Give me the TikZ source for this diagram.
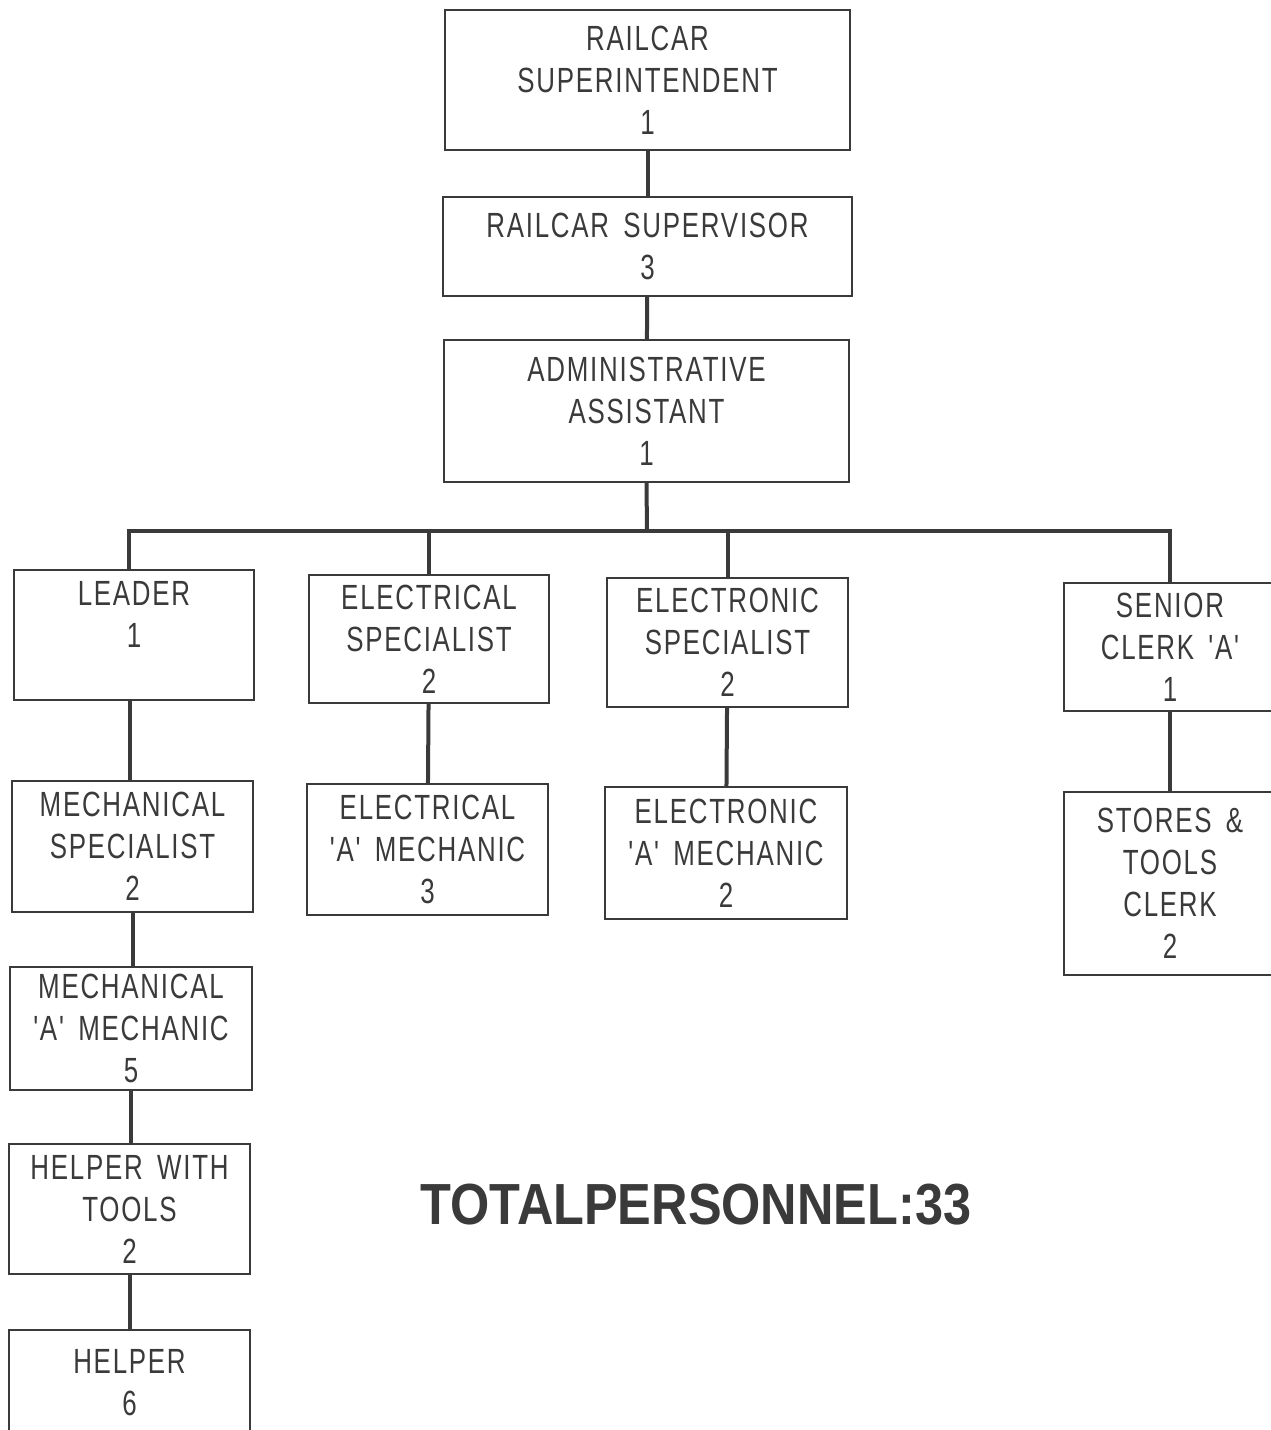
\documentclass[tikz,border=0pt]{standalone}
\usepackage{fontspec}
\newfontfamily\chartfont[FakeStretch=0.74,LetterSpace=5,WordSpace=1.6]{Liberation Sans}
\newfontfamily\totalfont[FakeStretch=0.87]{Liberation Sans}
\definecolor{ink}{HTML}{3A3A3A}

\begin{document}
\begin{tikzpicture}[
				x=1pt, y=-1pt,
				every node/.style={font=\chartfont\fontsize{35}{42}\selectfont, text=ink},
				box/.style={
					draw=ink,
					align=center,
					inner sep=0pt,
					line width=2pt
				},
				link/.style={
					draw=ink,
					line width=4pt
				}
				]
				\useasboundingbox (0,0) rectangle (1270,1430);
				
				\node[box,minimum width=405pt,minimum height=140pt] (super) at (647.5,80)
				{RAILCAR\\SUPERINTENDENT\\1};
				\node[box,minimum width=409pt,minimum height=99pt] (superv) at (647.5,246.5)
				{RAILCAR SUPERVISOR\\3};
				\node[box,minimum width=405pt,minimum height=142pt] (admin) at (646.5,411)
				{ADMINISTRATIVE\\ASSISTANT\\1};
				
				\node[box,minimum width=240pt,minimum height=130pt] (leader) at (134,635)
				{LEADER\\1\\\phantom{1}};
				\node[box,minimum width=240pt,minimum height=128pt] (elecspec) at (429,639)
				{ELECTRICAL\\SPECIALIST\\2};
				\node[box,minimum width=241pt,minimum height=129pt] (tronspec) at (727.5,642.5)
				{ELECTRONIC\\SPECIALIST\\2};
				\node[box,minimum width=212pt,minimum height=128pt] (clerk) at (1170,647)
				{SENIOR\\CLERK 'A'\\1};
				
				\node[box,minimum width=241pt,minimum height=131pt] (mechspec) at (132.5,846.5)
				{MECHANICAL\\SPECIALIST\\2};
				\node[box,minimum width=241pt,minimum height=131pt] (elecmech) at (427.5,849.5)
				{ELECTRICAL\\'A' MECHANIC\\3};
				\node[box,minimum width=242pt,minimum height=132pt] (tronmech) at (726,853)
				{ELECTRONIC\\'A' MECHANIC\\2};
				\node[box,minimum width=212pt,minimum height=183pt] (stores) at (1170,883.5)
				{STORES \&\\TOOLS\\CLERK\\2};
				
				\node[box,minimum width=242pt,minimum height=123pt] (mechmech) at (131,1028.5)
				{MECHANICAL\\'A' MECHANIC\\5};
				\node[box,minimum width=241pt,minimum height=130pt] (helptools) at (129.5,1209)
				{HELPER WITH\\TOOLS\\2};
				\node[box,minimum width=241pt,minimum height=106pt] (helper) at (129.5,1383)
				{HELPER\\6};
				
				\node[font=\totalfont\bfseries\fontsize{58}{60}\selectfont] (total) at (696,1205)
				{TOTALPERSONNEL:33};
				
				\coordinate (bus) at (647,531);
				
				\draw[link] (super) -- (superv);
				\draw[link] (superv) -- (admin);
				\draw[link] (admin.south) -- (bus);
				\draw[link] ([xshift=-5pt]leader.north) |- (bus) -| (clerk.north);
				\draw[link] (elecspec.north) -- (elecspec.north |- bus);
				\draw[link] (tronspec.north) -- (tronspec.north |- bus);
				\draw[link] ([xshift=-4pt]leader.south) -- ([xshift=-4pt]leader.south |- mechspec.north);
				\draw[link] (elecspec) -- (elecmech);
				\draw[link] (tronspec) -- (tronmech);
				\draw[link] (clerk) -- (stores);
				\draw[link] (mechspec.south) -- (mechspec.south |- mechmech.north);
				\draw[link] (mechmech.south) -- (mechmech.south |- helptools.north);
				\draw[link] (helptools.south) -- (helptools.south |- helper.north);
			\end{tikzpicture}
\end{document}
